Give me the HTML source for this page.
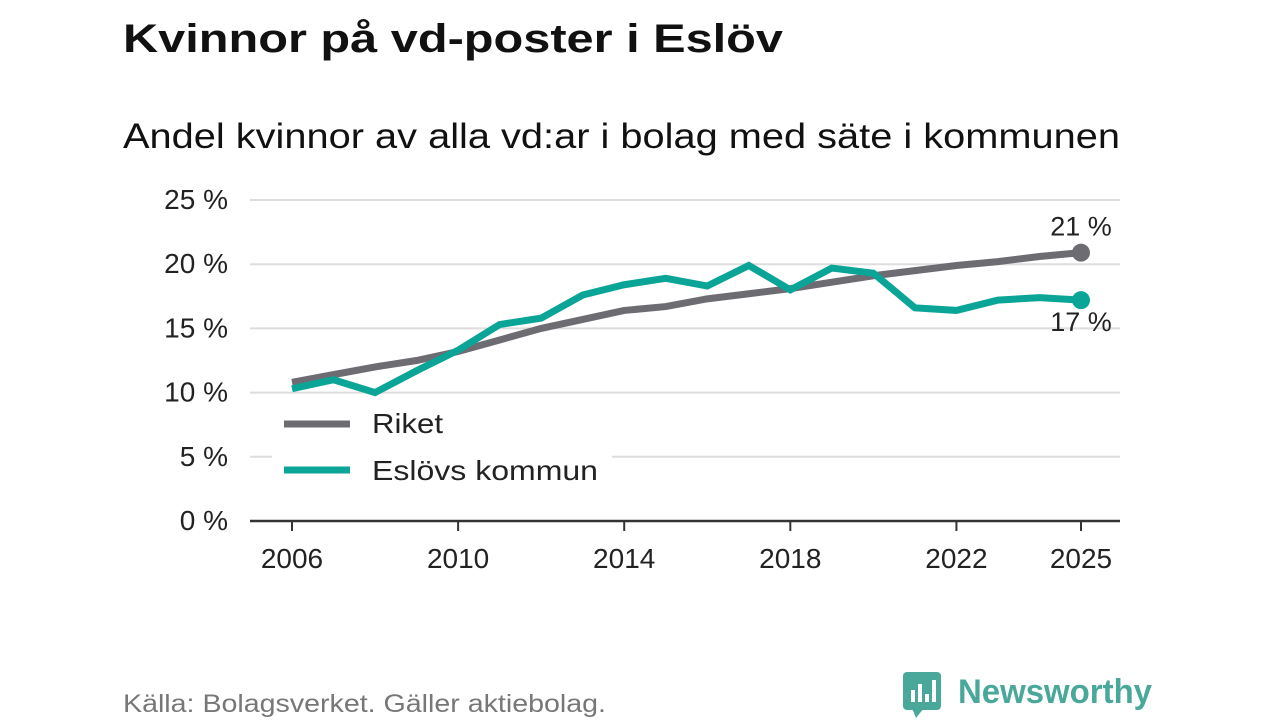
<!DOCTYPE html>
<html><head><meta charset="utf-8"><style>
body{margin:0;width:1280px;height:720px;background:#fff;font-family:"Liberation Sans",sans-serif;overflow:hidden}
</style></head><body>
<svg width="1280" height="720">
<text x="123" y="52" font-size="40" font-weight="bold" fill="#111" textLength="660" lengthAdjust="spacingAndGlyphs">Kvinnor på vd-poster i Eslöv</text>
<text x="123" y="148" font-size="35" fill="#111" textLength="997" lengthAdjust="spacingAndGlyphs">Andel kvinnor av alla vd:ar i bolag med säte i kommunen</text>
<g id="grid"></g><g id="lines"></g>
<g>
<rect x="272" y="400" width="340" height="100" fill="#fff"/>
<line x1="284" y1="424" x2="350" y2="424" stroke="#6e6c73" stroke-width="7"/>
<text x="372" y="433" font-size="28" fill="#222" textLength="71" lengthAdjust="spacingAndGlyphs">Riket</text>
<line x1="284" y1="470" x2="350" y2="470" stroke="#0aa596" stroke-width="7"/>
<text x="372" y="480" font-size="28" fill="#222" textLength="226" lengthAdjust="spacingAndGlyphs">Eslövs kommun</text>
</g>
<text x="123" y="712" font-size="25" fill="#777" textLength="483" lengthAdjust="spacingAndGlyphs">Källa: Bolagsverket. Gäller aktiebolag.</text>
<g>
<rect x="903" y="672" width="38" height="38" rx="4" fill="#4aa89a"/>
<polygon points="912,708 924,708 916,718" fill="#4aa89a"/>
<rect x="911" y="690" width="4" height="12" fill="#fff"/><rect x="918" y="684" width="4" height="18" fill="#fff"/><rect x="925" y="694" width="4" height="8" fill="#fff"/><rect x="932" y="680" width="4" height="22" fill="#fff"/>
<text x="958" y="703" font-size="34" font-weight="bold" fill="#4aa89a" textLength="194" lengthAdjust="spacingAndGlyphs">Newsworthy</text>
</g>
</svg>
<script>
const years=[2006,2007,2008,2009,2010,2011,2012,2013,2014,2015,2016,2017,2018,2019,2020,2021,2022,2023,2024,2025];
const riket=[10.8,11.4,12.0,12.5,13.2,14.1,15.0,15.7,16.4,16.7,17.3,17.7,18.1,18.6,19.1,19.5,19.9,20.2,20.6,20.9];
const eslov=[10.3,11.0,10.0,11.7,13.3,15.3,15.8,17.6,18.4,18.9,18.3,19.9,18.0,19.7,19.3,16.6,16.4,17.2,17.4,17.2];
const yTicks=[0,5,10,15,20,25];
const xTicks=[2006,2010,2014,2018,2022,2025];
const NS="http://www.w3.org/2000/svg";
const x=v=>292+(v-2006)*(1081-292)/19;
const y=v=>521-v*(321/25);
function mk(t,a,p){const e=document.createElementNS(NS,t);for(const k in a)e.setAttribute(k,a[k]);p.appendChild(e);return e;}
const g=document.getElementById('grid'),L=document.getElementById('lines');
yTicks.forEach(t=>{
 if(t>0){const l=mk('line',{x1:250,x2:1120,y1:y(t),y2:y(t),stroke:'#ddd','stroke-width':2},g);
 
 }
 const tx=mk('text',{x:228,y:y(t)+9,'font-size':28,fill:'#222','text-anchor':'end'},g);tx.textContent=t+' %';
 
 
});
const ax=mk('line',{x1:250,x2:1120,y1:521,y2:521,stroke:'#333','stroke-width':2.5},g);


xTicks.forEach(t=>{
 mk('line',{x1:x(t),x2:x(t),y1:521,y2:531,stroke:'#333','stroke-width':2},g);
 const tx=mk('text',{x:x(t),y:568,'font-size':28,fill:'#222','text-anchor':'middle'},g);tx.textContent=t;
 
 
});
function series(d,c,n){
 const p=mk('polyline',{points:d.map((v,i)=>x(years[i])+','+y(v)).join(' '),fill:'none',stroke:c,'stroke-width':7,'stroke-linejoin':'miter'},L);
 
 
 const ci=mk('circle',{cx:x(years[years.length-1]),cy:y(d[d.length-1]),r:9,fill:c},L);
 
 
}
series(riket,'#6e6c73','riket');series(eslov,'#0aa596','eslov');
const l1=mk('text',{x:1081,y:y(riket[19])-17,'font-size':27,fill:'#222','text-anchor':'middle'},L);l1.textContent=Math.round(riket[19])+' %';


const l2=mk('text',{x:1081,y:y(eslov[19])+31,'font-size':27,fill:'#222','text-anchor':'middle'},L);l2.textContent=Math.round(eslov[19])+' %';


</script>
</body></html>
